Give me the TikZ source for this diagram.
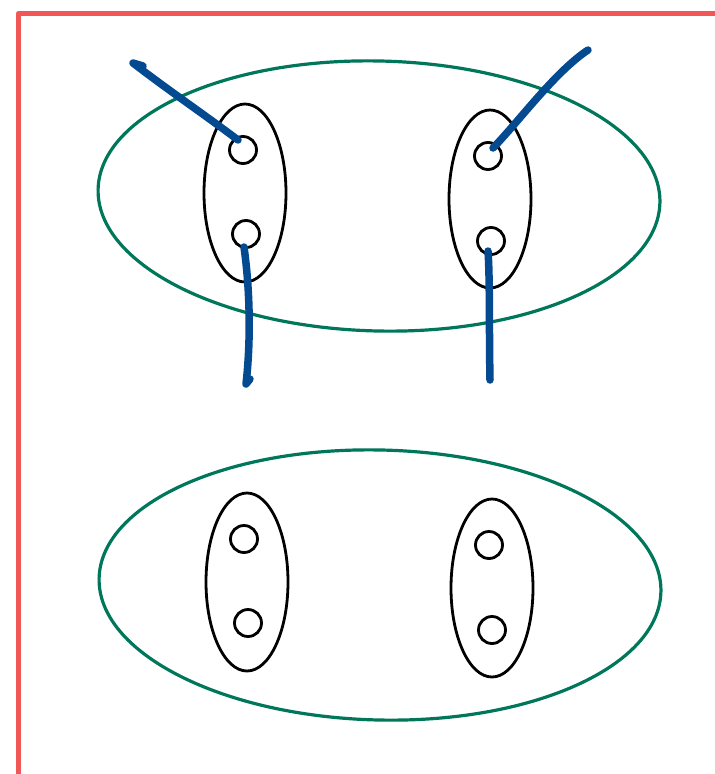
\documentclass[tikz,border=0pt]{standalone}
\usetikzlibrary{shapes.geometric}
\definecolor{framered}{HTML}{F25757}
\definecolor{setgreen}{HTML}{00775A}
\definecolor{strokeblue}{HTML}{044A91}
\begin{document}
\begin{tikzpicture}[x=1pt,y=-1pt,
  outerset/.style={draw=setgreen, line width=3.2pt, ellipse, minimum width=562pt, minimum height=270pt, inner sep=0pt, rotate=-1.4},
  pairset/.style={draw=black, line width=2.8pt, ellipse, minimum width=82pt, minimum height=178pt, inner sep=0pt},
  dot/.style={draw=black, line width=2.8pt, circle, minimum size=27pt, inner sep=0pt},
  bluestroke/.style={draw=strokeblue, line width=7.5pt, line cap=round, line join=round}]
\useasboundingbox (0,0) rectangle (715,774);
% frame
\draw[framered, line width=5.5pt, line join=round] (18.7,780) -- (18.7,13.5) -- (720,13.5);
% top group
\node[outerset] (U) at (379,196) {};
\node[pairset] (UA) at (245,193) {};
\node[pairset] (UB) at (490,199) {};
\node[dot] (ua1) at (243,150) {};
\node[dot] (ua2) at (246,234) {};
\node[dot] (ub1) at (488,156) {};
\node[dot] (ub2) at (491,241) {};
% bottom group
\node[outerset] (L) at (380,585) {};
\node[pairset] (LA) at (247,582) {};
\node[pairset] (LB) at (492,588) {};
\node[dot] (la1) at (244,539) {};
\node[dot] (la2) at (248,623) {};
\node[dot] (lb1) at (489,545) {};
\node[dot] (lb2) at (492,630) {};
% free ends
\coordinate (e1) at (133,63);
\coordinate (e2) at (246,384);
\coordinate (e3) at (588,50);
\coordinate (e4) at (490,380);
% blue strokes
\draw[bluestroke] ([shift={(-5,-10)}]ua1.center) .. controls (205,115) and (168,90) .. (e1) -- ++(10,3);
\draw[bluestroke] ([shift={(-2,13)}]ua2.center) .. controls (250,290) and (251,340) .. (e2) -- ++(4,-5);
\draw[bluestroke] ([shift={(5,-8)}]ub1.center) .. controls (520,120) and (555,72) .. (e3);
\draw[bluestroke] ([shift={(-3,10)}]ub2.center) .. controls (490,280) and (489,330) .. (e4);
\end{tikzpicture}
\end{document}
